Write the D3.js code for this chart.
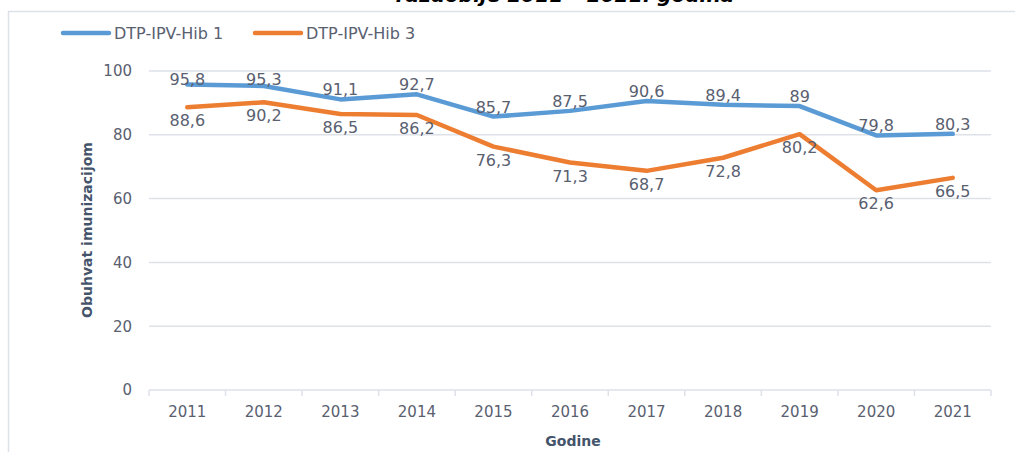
<!DOCTYPE html>
<html>
<head>
<meta charset="utf-8">
<script src="https://cdn.jsdelivr.net/npm/d3@7"></script>
<style>
  body { margin: 0; background: #fff; }
  text { font-family: "DejaVu Sans", Verdana, sans-serif; }
</style>
</head>
<body>
<div id="chart"></div>
<script>
// data
var years = ["2011", "2012", "2013", "2014", "2015", "2016", "2017", "2018", "2019", "2020", "2021"];
var hib1 = [95.8, 95.3, 91.1, 92.7, 85.7, 87.5, 90.6, 89.4, 89, 79.8, 80.3];
var hib3 = [88.6, 90.2, 86.5, 86.2, 76.3, 71.3, 68.7, 72.8, 80.2, 62.6, 66.5];
var seriesNames = ["DTP-IPV-Hib 1", "DTP-IPV-Hib 3"];
var yTicks = [0, 20, 40, 60, 80, 100];

var width = 1015, height = 452;
var textColor = "#596070";
var gridColor = "#dde1e8";
var colors = ["#5b9bd5", "#ed7d31"];

var svg = d3.select("#chart").append("svg")
    .attr("width", width)
    .attr("height", height);

// chart frame (partly outside the picture)
svg.append("rect")
    .attr("x", 8.5).attr("y", 11.5)
    .attr("width", 1100).attr("height", 500)
    .attr("fill", "none")
    .attr("stroke", gridColor)
    .attr("stroke-width", 1.5);

// cut-off title
svg.append("text")
    .attr("x", 565).attr("y", 2)
    .attr("text-anchor", "middle")
    .attr("font-size", 20)
    .attr("font-weight", "bold")
    .attr("font-style", "italic")
    .attr("fill", "#000")
    .text("razdoblje 2011 – 2021. godina");

var xScale = d3.scaleBand()
    .domain(years)
    .range([149, 991]);

var yScale = d3.scaleLinear()
    .domain([0, 100])
    .range([390, 71]);

// gridlines
svg.append("g")
    .selectAll("line")
    .data(yTicks)
    .enter().append("line")
    .attr("x1", 149).attr("x2", 991)
    .attr("y1", function (d) { return yScale(d); })
    .attr("y2", function (d) { return yScale(d); })
    .attr("stroke", gridColor)
    .attr("stroke-width", 1.5);

// y axis labels
var yAxis = svg.append("g")
    .attr("transform", "translate(132,0)")
    .call(d3.axisLeft(yScale).tickValues(yTicks).tickSize(0).tickPadding(0));
yAxis.select(".domain").remove();
yAxis.selectAll("text")
    .attr("font-size", 15)
    .attr("fill", textColor)
    .attr("font-family", "DejaVu Sans, sans-serif");

// x axis
var xAxis = svg.append("g")
    .attr("transform", "translate(0,390)")
    .call(d3.axisBottom(xScale).tickSize(0).tickPadding(16));
xAxis.select(".domain").remove();
xAxis.selectAll("text")
    .attr("font-size", 15)
    .attr("fill", textColor)
    .attr("font-family", "DejaVu Sans, sans-serif");

// tick marks between categories
var bounds = years.map(function (d) { return xScale(d); }).concat([xScale.range()[1]]);
svg.append("g")
    .selectAll("line")
    .data(bounds)
    .enter().append("line")
    .attr("x1", function (d) { return d; })
    .attr("x2", function (d) { return d; })
    .attr("y1", 390).attr("y2", 396)
    .attr("stroke", gridColor)
    .attr("stroke-width", 1.5);

// axis titles
svg.append("text")
    .attr("transform", "translate(92,230) rotate(-90)")
    .attr("text-anchor", "middle")
    .attr("font-family", "Open Sans, sans-serif")
    .attr("font-size", 14)
    .attr("font-weight", "bold")
    .attr("fill", "#44546a")
    .text("Obuhvat imunizacijom");

svg.append("text")
    .attr("x", 573).attr("y", 446)
    .attr("text-anchor", "middle")
    .attr("font-family", "Open Sans, sans-serif")
    .attr("font-size", 14)
    .attr("font-weight", "bold")
    .attr("fill", "#44546a")
    .text("Godine");

// lines
var cx = function (i) { return xScale(years[i]) + xScale.bandwidth() / 2; };
var lineFunction = d3.line()
    .x(function (d, i) { return cx(i); })
    .y(function (d) { return yScale(d); });

[hib1, hib3].forEach(function (vals, s) {
    svg.append("path")
        .datum(vals)
        .attr("d", lineFunction)
        .attr("fill", "none")
        .attr("stroke", colors[s])
        .attr("stroke-width", 4.5)
        .attr("stroke-linejoin", "round")
        .attr("stroke-linecap", "round");
});

// data labels
var fmt = function (v) { return String(v).replace(".", ","); };
svg.append("g").selectAll("text")
    .data(hib1)
    .enter().append("text")
    .attr("x", function (d, i) { return cx(i); })
    .attr("y", function (d) { return Math.max(yScale(d) - 4, 85); })
    .attr("text-anchor", "middle")
    .attr("font-size", 16)
    .attr("fill", textColor)
    .text(fmt);

svg.append("g").selectAll("text")
    .data(hib3)
    .enter().append("text")
    .attr("x", function (d, i) { return cx(i); })
    .attr("y", function (d) { return yScale(d) + 19; })
    .attr("text-anchor", "middle")
    .attr("font-size", 16)
    .attr("fill", textColor)
    .text(fmt);

// legend
var legendX = [63, 255];
seriesNames.forEach(function (name, s) {
    var g = svg.append("g").attr("transform", "translate(" + legendX[s] + ",33)");
    g.append("line")
        .attr("x1", 0).attr("x2", 46)
        .attr("y1", 0).attr("y2", 0)
        .attr("stroke", colors[s])
        .attr("stroke-width", 4.5)
        .attr("stroke-linecap", "round");
    g.append("text")
        .attr("x", 51).attr("y", 6)
        .attr("font-size", 16)
        .attr("fill", textColor)
        .text(name);
});
</script>
</body>
</html>
